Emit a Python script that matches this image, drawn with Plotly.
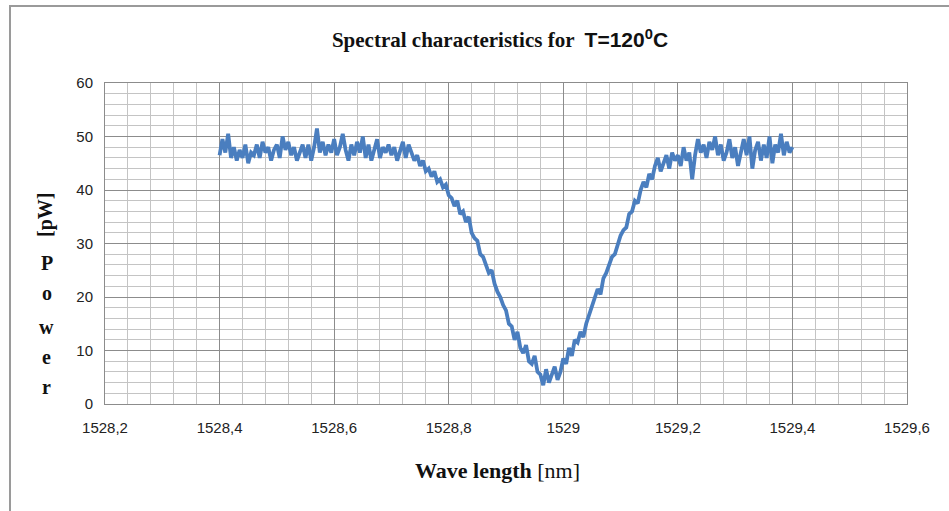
import plotly.graph_objects as go

# ---- data ----
wl_start = 1528.400
wl_step = 0.005
power_pw = [
    46.5, 49.5, 47.0, 50.5, 46.0, 48.0, 45.5, 47.5, 46.0, 48.5,
    45.0, 47.0, 46.5, 48.5, 46.0, 49.0, 47.0, 48.0, 45.5, 47.5,
    48.5, 46.0, 50.0, 47.5, 49.0, 46.5, 48.0, 45.5, 47.0, 48.5,
    46.0, 48.5, 45.5, 48.0, 51.5, 47.0, 49.0, 46.5, 48.5, 47.0,
    49.5, 46.5, 48.0, 50.5, 47.5, 45.5, 48.5, 46.5, 49.0, 47.0,
    50.0, 46.0, 48.5, 45.5, 47.5, 49.5, 46.0, 48.0, 47.0, 48.5,
    46.5, 48.0, 45.5, 47.5, 49.0, 46.0, 48.5, 47.0, 45.5, 46.5,
    44.5, 45.5, 43.5, 44.0, 42.5, 43.5, 41.5, 42.0, 40.5, 41.0,
    39.0, 38.5, 37.0, 38.0, 35.5, 36.0, 34.0, 35.0, 32.0, 31.0,
    30.5, 28.0, 27.5, 26.0, 24.5, 25.0, 22.5, 21.0, 20.0, 18.5,
    17.5, 15.0, 14.5, 12.0, 13.5, 10.5, 9.5, 11.0, 8.0, 7.5,
    9.0, 6.0, 5.5, 3.5, 6.5, 4.0, 5.5, 7.0, 4.5, 6.0,
    8.5, 7.5, 10.5, 9.0, 12.0, 11.5, 13.5, 12.5, 15.0, 16.5,
    18.5, 20.0, 21.5, 20.5, 23.5, 24.5, 26.0, 27.5, 28.0, 30.0,
    31.5, 32.5, 33.0, 35.5, 36.0, 38.0, 37.5, 40.0, 41.5, 40.5,
    43.0, 42.0, 44.5, 46.0, 43.5, 45.0, 46.5, 44.0, 47.0, 45.5,
    46.5, 44.5, 48.0, 45.5, 47.0, 42.0, 46.5, 49.5, 47.0, 48.5,
    46.0, 49.0, 47.5, 50.0, 46.5, 48.5, 45.5, 47.0, 49.5, 46.0,
    48.0, 44.5, 47.5, 49.5, 46.5, 50.0, 44.0, 47.5, 49.0, 45.5,
    48.5, 46.0, 50.0, 45.0, 48.5, 47.0, 50.5, 46.5, 49.0, 47.0,
    48.0,
]
wavelength_nm = [round(wl_start + i * wl_step, 3) for i in range(len(power_pw))]

x_range = [1528.2, 1529.6]
y_range = [0, 60]
x_tickvals = [1528.2, 1528.4, 1528.6, 1528.8, 1529.0, 1529.2, 1529.4, 1529.6]
x_ticktext = ["1528,2", "1528,4", "1528,6", "1528,8", "1529", "1529,2", "1529,4", "1529,6"]

title_text = ("Spectral characteristics for  "
              "<span style='font-family:Liberation Sans'>T=120<sup>0</sup>C</span>")
x_title = "Wave length <span style='font-weight:normal'>[nm]</span>"
y_unit = "[pW]"
y_word = ["P", "o", "w", "e", "r"]

# ---- figure ----
fig = go.Figure()
fig.add_trace(go.Scatter(
    x=wavelength_nm, y=power_pw, mode="lines",
    line=dict(color="#4a7ebf", width=3.8),
    showlegend=False,
))

serif = "Liberation Serif"
tick_font = dict(family="Liberation Sans", size=15, color="#222222")

fig.update_layout(
    width=949, height=511,
    margin=dict(l=105, r=42, t=83, b=107),
    paper_bgcolor="white", plot_bgcolor="white",
    title=dict(text=title_text, x=500/949, xanchor="center",
               y=1 - 40/511, yanchor="middle", xref="container", yref="container",
               font=dict(family=serif, size=21, color="#111111", weight="bold")),
    xaxis=dict(range=x_range, tickvals=x_tickvals, ticktext=x_ticktext,
               showgrid=True, gridcolor="#8c8c8c", gridwidth=1,
               minor=dict(dtick=0.04, tick0=1528.2, showgrid=True,
                          gridcolor="#c4c4c4", gridwidth=1.3),
               showline=True, linecolor="#8c8c8c", linewidth=1, mirror=True,
               ticks="", tickfont=tick_font, ticklabelstandoff=10,
               zeroline=False),
    yaxis=dict(range=y_range, dtick=10, tick0=0,
               showgrid=True, gridcolor="#8c8c8c", gridwidth=1,
               minor=dict(dtick=2, showgrid=True, gridcolor="#c4c4c4", gridwidth=1.3),
               showline=True, linecolor="#8c8c8c", linewidth=1, mirror=True,
               ticks="", tickfont=tick_font, ticklabelstandoff=8,
               zeroline=False),
)

# outer chart frame
fig.add_shape(type="rect", xref="paper", yref="paper",
              x0=(10 - 105) / 802, x1=(960 - 105) / 802,
              y0=(404 - 520) / 321, y1=(404 - 6) / 321,
              line=dict(color="#9a9a9a", width=2), layer="below")

# x-axis title
fig.add_annotation(text=x_title, xref="paper", yref="paper",
                   x=(497 - 105) / 802, y=(404 - 470) / 321,
                   xanchor="center", yanchor="middle", showarrow=False,
                   font=dict(family=serif, size=22, color="#111111", weight="bold"))

# y-axis title: rotated unit + stacked letters
fig.add_annotation(text=y_unit, xref="paper", yref="paper",
                   x=(45 - 105) / 802, y=(404 - 215) / 321,
                   xanchor="center", yanchor="middle", showarrow=False,
                   textangle=-90,
                   font=dict(family=serif, size=20, color="#111111", weight="bold"))
letter_y = [263, 293, 327, 357, 387]
for ch, py in zip(y_word, letter_y):
    fig.add_annotation(text=ch, xref="paper", yref="paper",
                       x=(47 - 105) / 802, y=(404 - py) / 321,
                       xanchor="center", yanchor="middle", showarrow=False,
                       font=dict(family=serif, size=20, color="#111111", weight="bold"))

fig.write_html("out.html")
